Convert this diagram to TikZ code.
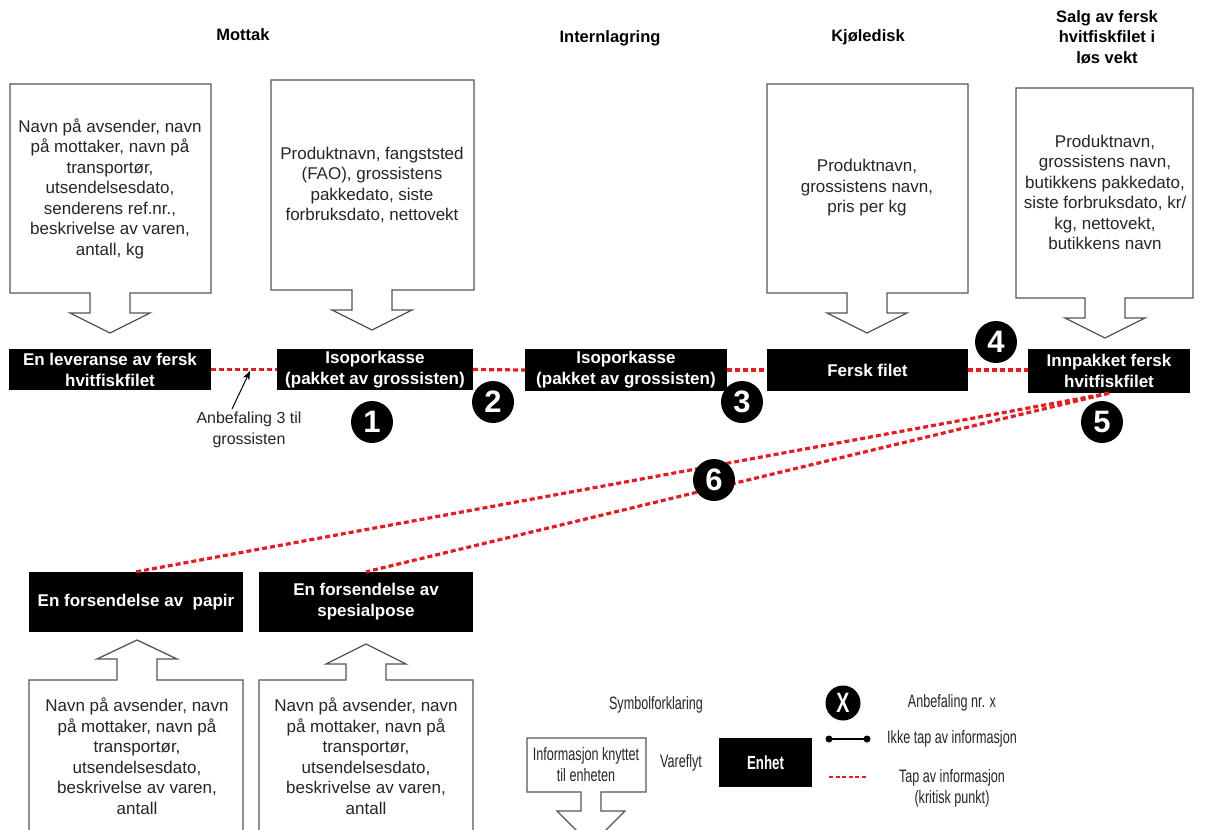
\documentclass[tikz,border=0pt]{standalone}
\usepackage{fontspec}
\setmainfont{Liberation Sans}
\newfontfamily\narrowfont[FakeStretch=0.7]{Liberation Sans}
\usetikzlibrary{arrows.meta}
\definecolor{lossred}{RGB}{225,30,35}
\definecolor{infogray}{RGB}{85,85,85}
\newcommand\DownCall[5]{%
 \draw[callout] (#1,#3) -- (#2,#3) -- (#2,#4) -- ({#5+20},#4) -- ({#5+20},{#4+20}) -- ({#5+40},{#4+20}) -- (#5,{#4+40}) -- ({#5-40},{#4+20}) -- ({#5-20},{#4+20}) -- ({#5-20},#4) -- (#1,#4) -- cycle;}
\newcommand\UpCall[7]{% x1,x2,top,bot,cx,shaftlen,headlen
 \draw[callout] (#1,#4) -- (#1,#3) -- ({#5-20},#3) -- ({#5-20},{#3-#6}) -- ({#5-40},{#3-#6}) -- (#5,{#3-#6-#7}) -- ({#5+40},{#3-#6}) -- ({#5+20},{#3-#6}) -- ({#5+20},#3) -- (#2,#3) -- (#2,#4);}
\begin{document}
\begin{tikzpicture}[x=1pt,y=-1pt,
  callout/.style={draw=infogray, line width=1.3, fill=white},
  unit/.style={fill=black, text=white, font=\bfseries\fontsize{17}{21}\selectfont, align=center, inner sep=0},
  num/.style={circle, fill=black, text=white, minimum size=42, inner sep=0, font=\bfseries\fontsize{31}{31}\selectfont},
  info/.style={text=black!85, align=center, font=\fontsize{17}{20.5}\selectfont},
  head/.style={font=\bfseries\fontsize{16.5}{20.5}\selectfont, align=center},
  legend/.style={text=black!85, font=\narrowfont\fontsize{18}{21}\selectfont, align=center},
  loss/.style={draw=lossred, line width=3.2, dash pattern=on 5 off 3}]
\useasboundingbox (0,0) rectangle (1211,830);
\clip (0,0) rectangle (1211,830);
\fill[white] (0,0) rectangle (1211,830);

% headers
\node[head] (hMottak) at (243,35) {Mottak};
\node[head] (hIntern) at (610,38) {Internlagring};
\node[head] (hKjole) at (868,37) {Kjøledisk};
\node[head] (hSalg) at (1107,37) {Salg av fersk\\hvitfiskfilet i\\løs vekt};

% top info callouts
\DownCall{10}{211}{84}{293}{110}
\DownCall{271}{474}{80}{290}{372}
\DownCall{767}{968}{84}{293}{867}
\DownCall{1016}{1193}{88}{298}{1105}
\node[info] (i1) at (110,188.5) {Navn på avsender, navn\\på mottaker, navn på\\transportør,\\utsendelsesdato,\\senderens ref.nr.,\\beskrivelse av varen,\\antall, kg};
\node[info] (i2) at (372,185) {Produktnavn, fangststed\\(FAO), grossistens\\pakkedato, siste\\forbruksdato, nettovekt};
\node[info] (i3) at (867,188) {Produktnavn,\\grossistens navn,\\pris per kg};
\node[info] (i4) at (1105,192.5) {Produktnavn,\\grossistens navn,\\butikkens pakkedato,\\siste forbruksdato, kr/\\kg, nettovekt,\\butikkens navn};

% units
\node[unit, minimum width=202, minimum height=41] (b1) at (110,369.5) {En leveranse av fersk\\hvitfiskfilet};
\node[unit, minimum width=196, minimum height=41] (b2) at (375,369.5) {Isoporkasse\\(pakket av grossisten)};
\node[unit, minimum width=202, minimum height=42] (b3) at (626,370) {Isoporkasse\\(pakket av grossisten)};
\node[unit, minimum width=201, minimum height=42] (b4) at (867.5,370) {Fersk filet};
\node[unit, minimum width=162, minimum height=44] (b5) at (1109,371) {Innpakket fersk\\hvitfiskfilet};
\node[unit, minimum width=214, minimum height=60] (p1) at (136,602) {En forsendelse av\ \ papir};
\node[unit, minimum width=214, minimum height=60] (p2) at (366,602) {En forsendelse av\\spesialpose};

% loss lines
\draw[loss] (b1.east) -- (b2.west);
\draw[loss] (b2.east) -- (b3.west);
\draw[loss] (b3.east) -- (b4.west);
\draw[loss] (b4.east) -- (b5.west |- b4.east);
\draw[loss] (b5.south) -- (p1.north);
\draw[loss] (b5.south) -- (p2.north);

% recommendation note
\node[info, font=\fontsize{16}{20.5}\selectfont] (anb) at (249,430) {Anbefaling 3 til\\grossisten};
\coordinate (anbA) at (232,409);
\coordinate (anbT) at (250,371);
\draw[line width=1, -{Stealth[length=9,width=7]}] (anbA) -- (anbT);

% numbers
\node[num] (n1) at (372,422) {1};
\node[num] (n2) at (493,402) {2};
\node[num] (n3) at (742,402) {3};
\node[num] (n4) at (996,342) {4};
\node[num] (n5) at (1102,422) {5};
\node[num] (n6) at (714,480) {6};

% bottom info callouts
\UpCall{29}{243}{680}{850}{137}{21}{19}
\UpCall{259}{473}{680}{850}{366}{16}{20}
\node[info] (i5) at (137,756) {Navn på avsender, navn\\på mottaker, navn på\\transportør,\\utsendelsesdato,\\beskrivelse av varen,\\antall};
\node[info] (i6) at (366,756) {Navn på avsender, navn\\på mottaker, navn på\\transportør,\\utsendelsesdato,\\beskrivelse av varen,\\antall};

% legend
\node[legend] (lTitle) at (656,705) {Symbolforklaring};
\draw[callout] (527,738) -- (646,738) -- (646,792) -- (601,792) -- (601,811) -- (625,811) -- (591,845) -- (557,811) -- (581,811) -- (581,792) -- (527,792) -- cycle;
\node[legend] (lInfo) at (586,765) {Informasjon knyttet\\til enheten};
\node[legend] (lVare) at (681,763) {Vareflyt};
\node[unit, minimum width=93, minimum height=49, font=\narrowfont\bfseries\fontsize{19}{21}\selectfont] (lUnit) at (765.5,762.5) {Enhet};
\node[circle, fill=black, text=white, minimum size=35, inner sep=0, font=\narrowfont\bfseries\fontsize{28}{28}\selectfont] (lNum) at (843,703) {X};
\node[legend] (lNumT) at (952,703) {Anbefaling nr. x};
\coordinate (lsA) at (829,739);
\coordinate (lsB) at (867,739);
\draw[line width=2] (lsA) -- (lsB);
\fill (lsA) circle (3.5);
\fill (lsB) circle (3.5);
\node[legend] (lsT) at (952,739) {Ikke tap av informasjon};
\coordinate (ldA) at (829,777);
\coordinate (ldB) at (867,777);
\draw[loss, line width=2.8, dash pattern=on 4 off 2.5] (ldA) -- (ldB);
\node[legend] (ldT) at (952,788) {Tap av informasjon\\(kritisk punkt)};
\end{tikzpicture}
\end{document}
